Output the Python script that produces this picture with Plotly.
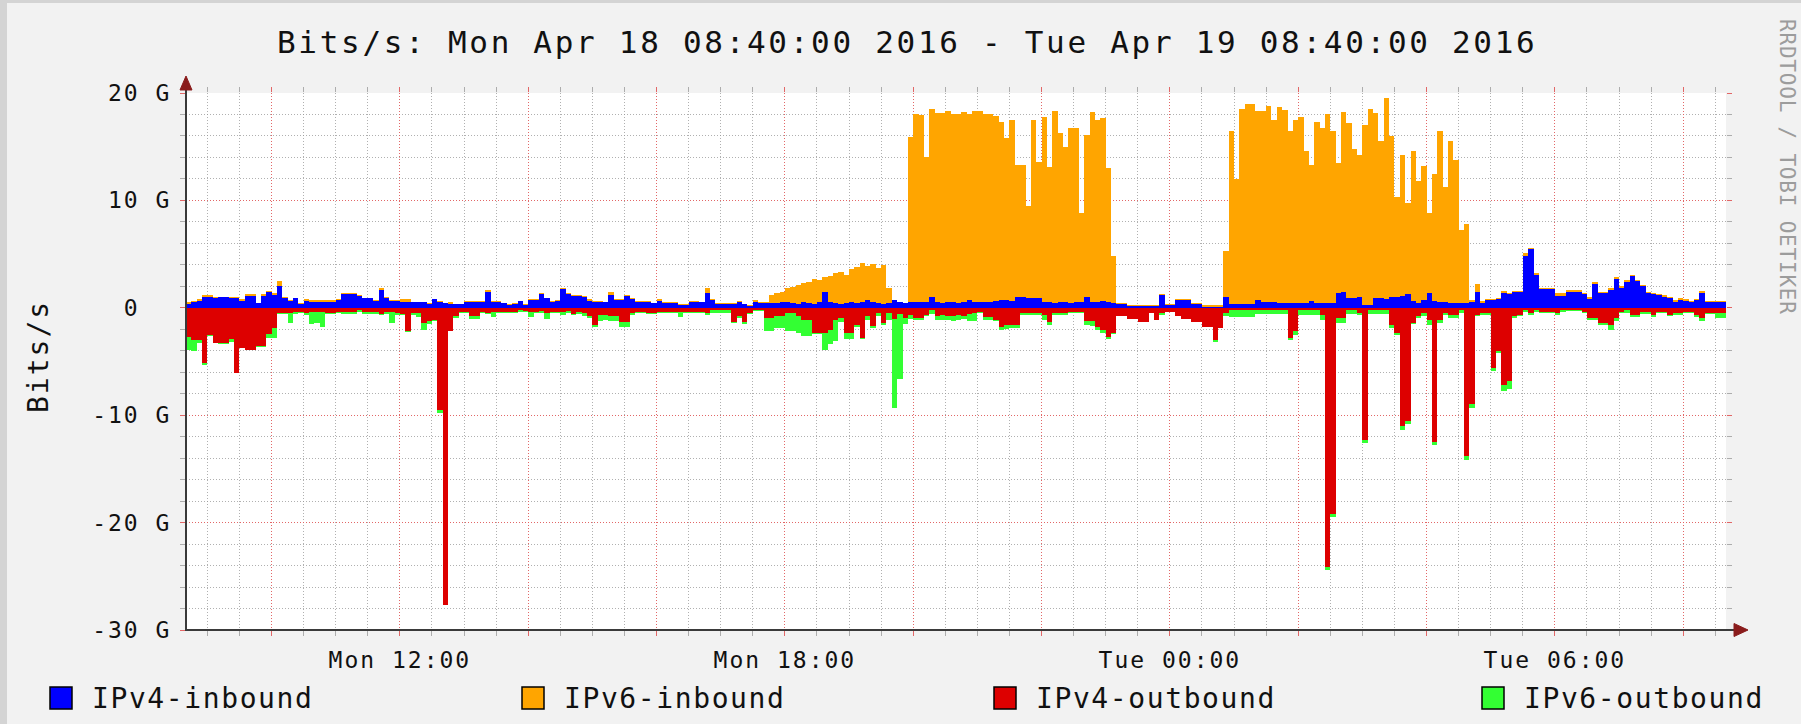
import pandas as pd
import plotly.graph_objects as go

# ---------------- data (Gbit/s, one value per 5-minute step) ----------------
PERIOD_START = "2016-04-18 08:40:00"
PERIOD_END = "2016-04-19 08:40:00"

ipv4_in = [
    0.37, 0.50, 0.68, 1.05,
    1.05, 0.95, 1.00, 1.00, 0.90, 0.95, 0.68, 1.10, 1.10, 0.43, 1.10, 1.43,
    1.20, 2.05, 0.90, 0.68, 0.87, 0.37, 0.62, 0.53, 0.50, 0.55, 0.52, 0.53,
    0.75, 1.30, 1.30, 1.28, 1.12, 0.90, 0.90, 0.68, 1.68, 0.90, 0.68, 0.68,
    0.56, 0.56, 0.53, 0.53, 0.50, 0.37, 0.80, 0.56, 0.43, 0.37, 0.31, 0.31,
    0.56, 0.56, 0.56, 0.56, 1.50, 0.56, 0.56, 0.43, 0.25, 0.37, 0.60, 0.28,
    0.75, 0.75, 1.30, 0.90, 0.56, 0.68, 1.74, 1.30, 1.12, 1.12, 1.05, 0.68,
    0.50, 0.50, 0.50, 1.20, 0.75, 0.75, 1.12, 0.80, 0.56, 0.56, 0.56, 0.43,
    0.68, 0.43, 0.43, 0.43, 0.25, 0.25, 0.50, 0.50, 0.50, 1.37, 0.75, 0.37,
    0.37, 0.37, 0.37, 0.56, 0.31, 0.19, 0.56, 0.43, 0.43, 0.45, 0.45, 0.50,
    0.50, 0.45, 0.40, 0.50, 0.45, 0.40, 0.50, 1.50, 0.50, 0.45, 0.40, 0.45,
    0.50, 0.45, 0.50, 0.75, 0.50, 0.45, 0.40, 0.45, 0.75, 0.50, 0.45, 0.50,
    0.50, 0.50, 0.50, 1.05, 0.50, 0.45, 0.50, 0.50, 0.45, 0.50, 0.70, 0.50,
    0.50, 0.50, 0.55, 0.60, 0.75, 0.75, 0.60, 1.00, 1.00, 0.95, 0.95, 0.90,
    0.50, 0.50, 0.45, 0.50, 0.50, 0.45, 0.50, 0.50, 1.05, 0.50, 0.50, 0.60,
    0.50, 0.45, 0.37, 0.37, 0.20, 0.20, 0.20, 0.20, 0.20, 0.20, 1.20, 0.25,
    0.25, 0.70, 0.70, 0.70, 0.37, 0.37, 0.06, 0.06, 0.06, 0.06, 1.05, 0.35,
    0.35, 0.35, 0.35, 0.35, 0.75, 0.50, 0.50, 0.50, 0.45, 0.45, 0.45, 0.45,
    0.45, 0.45, 0.60, 0.45, 0.45, 0.45, 0.45, 1.35, 1.50, 0.90, 0.90, 1.05,
    0.30, 0.30, 0.95, 0.95, 0.80, 1.05, 1.05, 1.10, 1.30, 0.60, 0.45, 0.70,
    1.35, 0.60, 0.50, 0.50, 0.45, 0.45, 0.45, 0.45, 0.50, 1.50, 0.45, 0.75,
    0.75, 0.80, 1.40, 1.30, 1.50, 1.50, 4.80, 5.45, 3.10, 1.75, 1.75, 1.75,
    1.10, 1.10, 1.50, 1.50, 1.50, 1.30, 0.80, 2.25, 1.35, 1.35, 1.70, 2.65,
    1.80, 2.40, 2.95, 2.45, 2.00, 1.37, 1.30, 1.18, 1.05, 0.90, 0.55, 0.70,
    0.60, 0.50, 0.75, 1.42, 0.58, 0.58, 0.58, 0.58,
]

ipv6_in = [
    0.19, 0.15, 0.12, 0.10,
    0.10, 0.05, 0.05, 0.05, 0.15, 0.05, 0.12, 0.15, 0.20, 0.05, 0.20, 0.12,
    0.15, 0.45, 0.10, 0.05, 0.05, 0.05, 0.18, 0.20, 0.20, 0.20, 0.20, 0.20,
    0.06, 0.06, 0.06, 0.06, 0.05, 0.05, 0.05, 0.05, 0.18, 0.10, 0.05, 0.05,
    0.25, 0.25, 0.05, 0.05, 0.05, 0.06, 0.05, 0.05, 0.05, 0.18, 0.05, 0.05,
    0.05, 0.05, 0.12, 0.12, 0.12, 0.06, 0.06, 0.05, 0.06, 0.05, 0.05, 0.05,
    0.05, 0.05, 0.06, 0.05, 0.05, 0.05, 0.12, 0.06, 0.05, 0.05, 0.06, 0.12,
    0.18, 0.18, 0.05, 0.30, 0.06, 0.06, 0.05, 0.10, 0.05, 0.05, 0.05, 0.05,
    0.12, 0.12, 0.12, 0.12, 0.12, 0.12, 0.12, 0.12, 0.05, 0.45, 0.05, 0.12,
    0.12, 0.12, 0.12, 0.05, 0.05, 0.06, 0.19, 0.10, 0.10, 0.75, 0.95, 1.00,
    1.30, 1.45, 1.70, 1.80, 1.95, 2.30, 2.10, 1.40, 2.50, 2.75, 2.90, 2.65,
    3.10, 3.35, 3.70, 3.15, 3.60, 3.25, 3.60, 1.40, 0.00, 0.00, 0.00, 15.45,
    17.50, 17.45, 13.50, 17.45, 17.60, 17.65, 17.80, 17.50, 17.55, 17.70, 17.30, 17.80,
    17.80, 17.50, 17.45, 17.30, 16.55, 15.05, 16.90, 12.30, 12.30, 8.55, 16.55, 12.70,
    17.30, 12.60, 17.85, 15.80, 14.50, 16.25, 16.20, 8.30, 15.05, 17.70, 17.00, 17.10,
    12.50, 4.35, 0.12, 0.12, 0.10, 0.10, 0.10, 0.10, 0.10, 0.10, 0.10, 0.12,
    0.12, 0.12, 0.12, 0.12, 0.06, 0.06, 0.20, 0.20, 0.20, 0.20, 4.20, 16.15,
    11.65, 18.15, 18.65, 18.65, 17.55, 17.80, 18.25, 17.00, 18.25, 17.95, 16.05, 17.05,
    17.35, 14.15, 12.70, 16.85, 16.25, 17.55, 16.05, 12.15, 16.70, 16.30, 13.90, 13.20,
    16.70, 18.20, 17.15, 14.55, 18.70, 14.95, 9.25, 13.15, 8.50, 14.00, 11.35, 12.50,
    7.45, 11.90, 16.00, 10.75, 15.05, 13.35, 6.80, 7.35, 0.25, 0.75, 0.15, 0.10,
    0.10, 0.10, 0.15, 0.10, 0.10, 0.10, 0.30, 0.10, 0.10, 0.12, 0.12, 0.12,
    0.25, 0.25, 0.18, 0.18, 0.18, 0.12, 0.18, 0.12, 0.15, 0.15, 0.15, 0.20,
    0.25, 0.20, 0.12, 0.12, 0.12, 0.12, 0.12, 0.12, 0.12, 0.12, 0.18, 0.20,
    0.18, 0.15, 0.06, 0.15, 0.06, 0.06, 0.06, 0.06,
]

ipv4_out = [
    -2.7, -3.0, -3.0, -5.1,
    -2.5, -3.25, -3.3, -3.3, -2.95, -6.05, -3.7, -3.9, -3.9, -3.6, -3.6, -2.4,
    -1.9, -0.5, -0.5, -0.5, -0.4, -0.35, -0.5, -0.4, -0.4, -0.4, -0.45, -0.45,
    -0.35, -0.4, -0.4, -0.4, -0.2, -0.4, -0.4, -0.4, -0.6, -0.4, -0.4, -0.5,
    -0.55, -2.2, -0.5, -0.5, -1.4, -1.2, -1.1, -9.5, -27.7, -2.2, -0.8, -0.35,
    -0.35, -0.8, -0.8, -0.4, -0.45, -0.4, -0.35, -0.4, -0.4, -0.4, -0.25, -0.3,
    -0.4, -0.35, -0.3, -0.45, -0.35, -0.35, -0.4, -0.3, -0.6, -0.4, -0.5, -0.8,
    -1.6, -0.65, -0.65, -0.8, -0.8, -1.3, -1.3, -0.5, -0.35, -0.35, -0.5, -0.5,
    -0.35, -0.35, -0.35, -0.35, -0.35, -0.35, -0.35, -0.35, -0.35, -0.5, -0.25, -0.25,
    -0.25, -0.25, -1.3, -0.8, -1.3, -0.5, -0.2, -0.2, -0.95, -0.95, -0.8, -0.8,
    -0.5, -0.5, -0.8, -1.1, -1.1, -2.35, -2.35, -2.35, -2.05, -1.1, -0.95, -2.35,
    -2.35, -1.6, -2.8, -0.8, -1.7, -0.5, -1.4, -0.5, -1.0, -0.6, -0.95, -0.65,
    -0.95, -0.95, -0.65, -0.2, -0.8, -0.7, -0.75, -0.8, -0.7, -0.75, -0.6, -0.5,
    -0.35, -0.85, -0.85, -1.1, -1.75, -1.6, -1.6, -1.6, -0.5, -0.5, -0.5, -0.5,
    -0.65, -1.3, -0.5, -0.5, -0.5, -0.35, -0.35, -0.35, -1.2, -1.2, -1.75, -2.05,
    -2.7, -2.3, -0.8, -0.8, -1.0, -1.0, -1.3, -1.3, -0.5, -1.1, -0.5, -0.35,
    -0.35, -0.8, -1.0, -1.0, -1.3, -1.3, -1.75, -1.75, -3.0, -1.9, -0.5, -0.25,
    -0.25, -0.25, -0.25, -0.25, -0.2, -0.2, -0.2, -0.2, -0.2, -0.2, -2.8, -2.2,
    -0.2, -0.2, -0.2, -0.2, -0.65, -24.1, -19.2, -0.95, -0.95, -0.2, -0.2, -0.5,
    -12.3, -0.25, -0.25, -0.25, -0.25, -1.6, -2.35, -11.0, -10.5, -1.4, -0.8, -0.5,
    -1.1, -12.5, -1.1, -0.5, -0.65, -0.65, -0.2, -13.8, -9.0, -0.65, -0.5, -0.5,
    -5.6, -4.0, -7.2, -6.8, -0.8, -0.65, -0.2, -0.5, -0.2, -0.4, -0.4, -0.4,
    -0.5, -0.25, -0.2, -0.2, -0.2, -0.35, -0.95, -0.95, -1.43, -1.43, -1.6, -0.95,
    -0.35, -0.2, -0.65, -0.65, -0.35, -0.35, -0.65, -0.35, -0.35, -0.65, -0.5, -0.5,
    -0.35, -0.35, -0.65, -0.95, -0.45, -0.45, -0.5, -0.5,
]

ipv6_out = [
    -1.2, -1.0, -0.3, -0.2,
    -0.1, -0.05, -0.05, -0.05, -0.2, 0.0, -0.05, -0.05, -0.05, -0.05, -0.05, -0.4,
    -0.9, -0.1, -0.1, -0.95, -0.15, -0.15, -0.15, -1.1, -1.0, -1.35, -0.15, -0.1,
    -0.1, -0.15, -0.15, -0.15, -0.15, -0.15, -0.15, -0.15, -0.1, -0.15, -1.0, -0.15,
    -0.1, -0.05, -0.2, -0.4, -0.65, -0.3, -0.15, -0.25, 0.0, 0.0, -0.15, -0.15,
    -0.1, -0.2, -0.25, -0.1, -0.15, -0.45, -0.15, -0.1, -0.05, -0.1, -0.1, -0.1,
    -0.45, -0.1, -0.15, -0.6, -0.1, -0.15, -0.25, -0.15, -0.1, -0.15, -0.25, -0.15,
    -0.15, -0.6, -0.5, -0.45, -0.45, -0.45, -0.45, -0.15, -0.15, -0.15, -0.1, -0.1,
    -0.15, -0.15, -0.15, -0.15, -0.5, -0.15, -0.15, -0.15, -0.15, -0.15, -0.2, -0.2,
    -0.2, -0.2, -0.1, -0.15, -0.2, -0.1, -0.06, -0.06, -1.2, -1.25, -1.1, -1.1,
    -1.7, -1.7, -1.55, -1.55, -1.55, -0.1, -0.1, -1.55, -1.35, -2.0, -0.4, -0.6,
    -0.6, -0.15, -0.1, -0.3, -0.15, -0.3, -0.2, -0.6, -8.3, -6.0, -0.6, -0.4,
    -0.15, -0.15, -0.15, -0.4, -0.3, -0.4, -0.35, -0.4, -0.45, -0.3, -0.6, -0.75,
    -0.15, -0.25, -0.25, -0.15, -0.35, -0.35, -0.3, -0.3, -0.2, -0.2, -0.2, -0.2,
    -0.45, -0.3, -0.15, -0.15, -0.15, -0.15, -0.15, -0.15, -0.4, -0.5, -0.35, -0.3,
    -0.2, -0.15, 0.0, 0.0, 0.0, 0.0, 0.0, 0.0, 0.0, 0.0, -0.15, 0.0,
    0.0, 0.0, 0.0, 0.0, 0.0, 0.0, 0.0, 0.0, -0.15, 0.0, -0.3, -0.65,
    -0.65, -0.65, -0.65, -0.65, -0.4, -0.4, -0.4, -0.4, -0.4, -0.4, -0.2, -0.3,
    -0.45, -0.45, -0.45, -0.45, -0.45, -0.3, -0.3, -0.45, -0.45, -0.35, -0.35, -0.15,
    -0.3, -0.35, -0.35, -0.35, -0.35, -0.3, -0.15, -0.4, -0.3, -0.1, -0.15, -0.3,
    -0.5, -0.3, -0.3, -0.15, -0.3, -0.3, -0.3, -0.4, -0.3, -0.15, -0.15, -0.15,
    -0.3, -0.2, -0.5, -0.8, -0.15, -0.15, -0.15, -0.15, -0.15, -0.1, -0.1, -0.1,
    -0.15, -0.1, -0.1, -0.1, -0.1, -0.1, -0.15, -0.15, -0.15, -0.15, -0.45, -0.3,
    -0.15, -0.25, -0.2, -0.2, -0.2, -0.2, -0.2, -0.15, -0.15, -0.15, -0.15, -0.15,
    -0.15, -0.15, -0.2, -0.3, -0.12, -0.12, -0.45, -0.45,
]

series_names = ["IPv4-inbound", "IPv6-inbound", "IPv4-outbound", "IPv6-outbound"]
series_colors = ["#0000FF", "#FFA500", "#DD0000", "#33FF33"]
series_values = [ipv4_in, ipv6_in, ipv4_out, ipv6_out]

y_tick_values = [20, 10, 0, -10, -20, -30]
y_tick_labels = ["20 G", "10 G", "0\u00a0\u00a0", "-10 G", "-20 G", "-30 G"]
x_grid_times = ["2016-04-18 10:00", "2016-04-18 12:00", "2016-04-18 14:00",
                "2016-04-18 16:00", "2016-04-18 18:00", "2016-04-18 20:00",
                "2016-04-18 22:00", "2016-04-19 00:00", "2016-04-19 02:00",
                "2016-04-19 04:00", "2016-04-19 06:00", "2016-04-19 08:00"]
x_grid_labels = ["", "Mon 12:00", "", "", "Mon 18:00", "", "", "Tue 00:00",
                 "", "", "Tue 06:00", ""]

title_text = "Bits/s: Mon Apr 18 08:40:00 2016 - Tue Apr 19 08:40:00 2016"
y_title_text = "Bits/s"
watermark_text = "RRDTOOL / TOBI OETIKER"

# ---------------- geometry / style ----------------
W, H = 1801, 724
PL, PR, PT, PB = 186, 1726, 93, 630
FONT = "DejaVu Sans Mono"
MAJOR = "rgba(235,90,90,0.85)"
MINOR = "rgba(150,150,150,0.75)"


def px(x):
    return (x - PL) / (PR - PL)


def py(y):
    return (PB - y) / (PB - PT)


def spaced(text, sp):
    return '<span style="letter-spacing:%spx">%s</span>' % (sp, text)


step_starts = pd.date_range(PERIOD_START, periods=len(ipv4_in), freq="5min")
step_centers = step_starts + pd.Timedelta(seconds=150)

fig = go.Figure()
for name, color, vals in zip(series_names, series_colors, series_values):
    fig.add_trace(go.Bar(
        x=step_centers, y=vals, name=name, width=300000,
        marker=dict(color=color, line=dict(width=0)),
        showlegend=False, hoverinfo="skip",
    ))

tick_font = dict(family=FONT, size=23, color="#111111")

fig.update_layout(
    width=W, height=H,
    margin=dict(l=PL, r=W - PR, t=PT, b=H - PB, pad=0),
    paper_bgcolor="#F2F2F2", plot_bgcolor="#FFFFFF",
    barmode="relative", bargap=0, bargroupgap=0,
    showlegend=False,
    font=dict(family=FONT, color="#111111"),
    xaxis=dict(
        type="date", range=[PERIOD_START, PERIOD_END], fixedrange=True,
        tickmode="array", tickvals=x_grid_times,
        ticktext=[spaced(t, 2) for t in x_grid_labels],
        tickfont=tick_font, ticks="outside", ticklen=5, tickwidth=1,
        tickcolor=MAJOR, mirror="ticks", showline=False, zeroline=False,
        showgrid=True, gridcolor=MAJOR, griddash="1px,2px", gridwidth=1,
        ticklabelstandoff=4,
        minor=dict(tickmode="linear", tick0="2016-04-18 00:00", dtick=1800000,
                   showgrid=True, gridcolor=MINOR, griddash="1px,2px",
                   gridwidth=1, ticks="outside", ticklen=5, tickcolor=MINOR),
    ),
    yaxis=dict(
        range=[-30, 20], fixedrange=True,
        tickmode="array", tickvals=y_tick_values,
        ticktext=[spaced(t, 2) for t in y_tick_labels],
        tickfont=tick_font, ticks="outside", ticklen=5, tickwidth=1,
        tickcolor=MAJOR, mirror="ticks", showline=False, zeroline=False,
        showgrid=True, gridcolor=MAJOR, griddash="1px,2px", gridwidth=1,
        ticklabelstandoff=4,
        minor=dict(tickmode="linear", tick0=0, dtick=2,
                   showgrid=True, gridcolor=MINOR, griddash="1px,2px",
                   gridwidth=1, ticks="outside", ticklen=5, tickcolor=MINOR),
    ),
)

shapes = []
# frame shading: light bands along the top and left edges only
FRAME = "#D4D4D4"
shapes.append(dict(type="rect", xref="paper", yref="paper",
                   x0=px(0), x1=px(W), y0=py(3), y1=py(0),
                   fillcolor=FRAME, line=dict(width=0), layer="above"))
shapes.append(dict(type="rect", xref="paper", yref="paper",
                   x0=px(0), x1=px(7), y0=py(H), y1=py(0),
                   fillcolor=FRAME, line=dict(width=0), layer="above"))
# axis lines
AXIS = "#3A3A3A"
shapes.append(dict(type="line", xref="paper", yref="paper",
                   x0=px(PL), x1=px(PL), y0=py(PB + 1), y1=py(86),
                   line=dict(color=AXIS, width=2)))
shapes.append(dict(type="line", xref="paper", yref="paper",
                   x0=px(PL - 1), x1=px(1736), y0=py(PB), y1=py(PB),
                   line=dict(color=AXIS, width=2)))
# arrows
ARROW = "#8A1C1C"
shapes.append(dict(type="path", xref="paper", yref="paper",
                   path="M %f %f L %f %f L %f %f Z" % (
                       px(PL), py(76), px(PL - 6), py(90), px(PL + 6), py(90)),
                   fillcolor=ARROW, line=dict(color=ARROW, width=1)))
shapes.append(dict(type="path", xref="paper", yref="paper",
                   path="M %f %f L %f %f L %f %f Z" % (
                       px(1748), py(PB), px(1734), py(PB - 6.5), px(1734), py(PB + 6.5)),
                   fillcolor=ARROW, line=dict(color=ARROW, width=1)))

# legend boxes + labels
legend_box_x = [50, 522, 994, 1482]
annotations = []
for bx, name, color in zip(legend_box_x, series_names, series_colors):
    shapes.append(dict(type="rect", xref="paper", yref="paper",
                       x0=px(bx), x1=px(bx + 22), y0=py(709), y1=py(687),
                       fillcolor=color, line=dict(color="#000000", width=1.5)))
    annotations.append(dict(xref="paper", yref="paper", x=px(bx + 40), y=py(698.5),
                            xanchor="left", yanchor="middle", showarrow=False,
                            text=spaced(name, 1.6),
                            font=dict(family=FONT, size=28, color="#111111")))

annotations.append(dict(xref="paper", yref="paper", x=px(907), y=py(42),
                        xanchor="center", yanchor="middle", showarrow=False,
                        text=spaced(title_text, 2.7),
                        font=dict(family=FONT, size=31, color="#111111")))
annotations.append(dict(xref="paper", yref="paper", x=px(38), y=py(357),
                        xanchor="center", yanchor="middle", showarrow=False,
                        textangle=-90, text=spaced(y_title_text, 2),
                        font=dict(family=FONT, size=28, color="#111111")))
annotations.append(dict(xref="paper", yref="paper", x=px(1787), y=py(167),
                        xanchor="center", yanchor="middle", showarrow=False,
                        textangle=90, text=spaced(watermark_text, 0.8),
                        font=dict(family=FONT, size=21, color="#9C9C9C")))

fig.update_layout(shapes=shapes, annotations=annotations)

fig.write_html(
    "out.html",
    config={"displayModeBar": False, "staticPlot": True},
    post_script="document.body.style.margin='0px';document.body.style.overflow='hidden';",
)
